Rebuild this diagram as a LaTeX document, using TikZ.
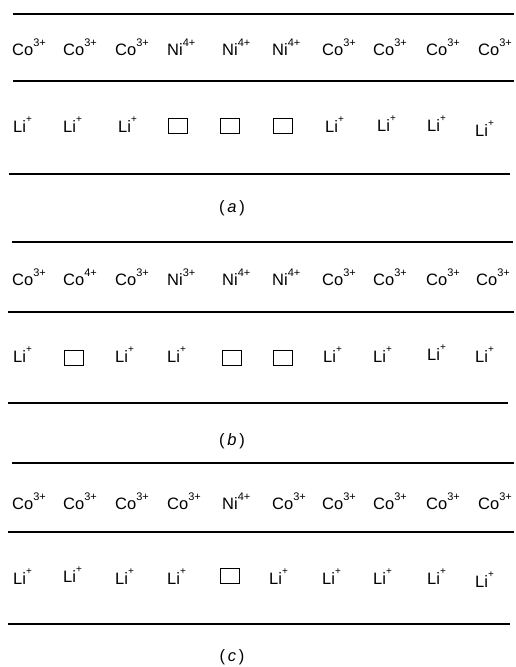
\documentclass[tikz,border=0pt]{standalone}
\usepackage{fontspec}
\setmainfont{Liberation Sans}
\newcommand{\ionchg}[1]{\raisebox{9pt}{\fontsize{11}{11}\selectfont #1}}
\newcommand{\liplus}{\raisebox{9.5pt}{\fontsize{10}{10}\selectfont +}}
\tikzset{
  ion/.style={inner sep=0pt, anchor=base west, font=\fontsize{16.5}{18}\selectfont},
  vac/.style={draw, line width=1.1pt, minimum width=19pt, minimum height=15pt, inner sep=0pt, anchor=north west},
  layer/.style={line width=2.2pt},
  paneltag/.style={inner sep=0pt, font=\fontsize{16.5}{18}\selectfont}
}
\begin{document}
\begin{tikzpicture}[x=1pt,y=-1pt]
\useasboundingbox (0,0) rectangle (516,667);
% ---------- panel (a)
\coordinate (a1l) at (13,14);  \coordinate (a1r) at (514,14);
\coordinate (a2l) at (13,81);  \coordinate (a2r) at (514,81);
\coordinate (a3l) at (9,174);  \coordinate (a3r) at (510,174);
\draw[layer] (a1l) -- (a1r);
\draw[layer] (a2l) -- (a2r);
\draw[layer] (a3l) -- (a3r);
\foreach \el/\ch/\x [count=\i] in {Co/3+/12, Co/3+/63, Co/3+/115, Ni/4+/167, Ni/4+/222, Ni/4+/272, Co/3+/322, Co/3+/373, Co/3+/426, Co/3+/478}
  \node[ion] (a-t\i) at (\x,55) {\el\ionchg{\ch}};
\foreach \x/\dy [count=\i] in {13/0, 63/0, 118/0, 325/0, 377/-1, 427/-1, 475/4}
  \node[ion] (a-li\i) at (\x,132+\dy) {Li\liplus};
\foreach \x [count=\i] in {168, 220, 273}
  \node[vac] (a-v\i) at (\x,118) {};
\node[paneltag] (capa) at (232,208) {(\,\textit{a}\,)};
% ---------- panel (b)
\coordinate (b1l) at (12,242); \coordinate (b1r) at (513,242);
\coordinate (b2l) at (8,312);  \coordinate (b2r) at (514,312);
\coordinate (b3l) at (8,403);  \coordinate (b3r) at (508,403);
\draw[layer] (b1l) -- (b1r);
\draw[layer] (b2l) -- (b2r);
\draw[layer] (b3l) -- (b3r);
\foreach \el/\ch/\x [count=\i] in {Co/3+/12, Co/4+/63, Co/3+/115, Ni/3+/167, Ni/4+/222, Ni/4+/272, Co/3+/322, Co/3+/373, Co/3+/426, Co/3+/476}
  \node[ion] (b-t\i) at (\x,285) {\el\ionchg{\ch}};
\foreach \x/\dy [count=\i] in {13/0, 115/0, 167/0, 323/0, 373/0, 427/-2, 475/0}
  \node[ion] (b-li\i) at (\x,362+\dy) {Li\liplus};
\foreach \x [count=\i] in {64, 222, 273}
  \node[vac] (b-v\i) at (\x,350) {};
\node[paneltag] (capb) at (232,441) {(\,\textit{b}\,)};
% ---------- panel (c)
\coordinate (c1l) at (12,463); \coordinate (c1r) at (514,463);
\coordinate (c2l) at (8,532);  \coordinate (c2r) at (514,532);
\coordinate (c3l) at (8,624);  \coordinate (c3r) at (510,624);
\draw[layer] (c1l) -- (c1r);
\draw[layer] (c2l) -- (c2r);
\draw[layer] (c3l) -- (c3r);
\foreach \el/\ch/\x [count=\i] in {Co/3+/12, Co/3+/63, Co/3+/115, Co/3+/167, Ni/4+/222, Co/3+/272, Co/3+/322, Co/3+/373, Co/3+/426, Co/3+/478}
  \node[ion] (c-t\i) at (\x,509) {\el\ionchg{\ch}};
\foreach \x/\dy [count=\i] in {13/0, 63/-2, 115/0, 167/0, 269/0, 322/0, 373/0, 427/0, 475/3}
  \node[ion] (c-li\i) at (\x,584+\dy) {Li\liplus};
\node[vac] (c-v1) at (220,568) {};
\node[paneltag] (capc) at (232,657) {(\,\textit{c}\,)};
\end{tikzpicture}
\end{document}
